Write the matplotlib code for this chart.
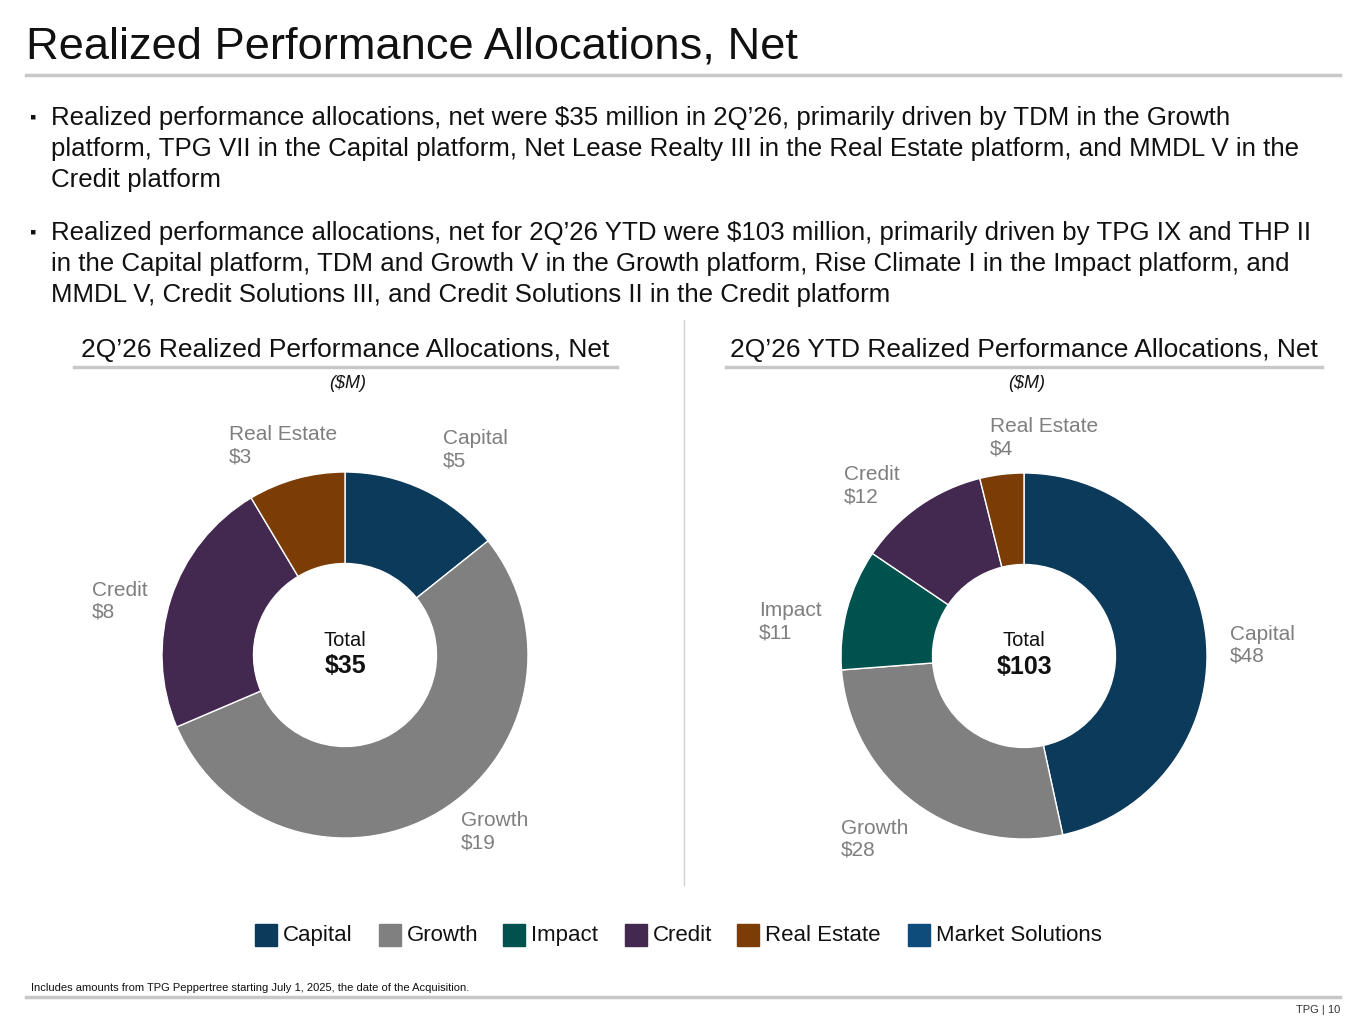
import matplotlib.pyplot as plt
from matplotlib.patches import Rectangle
from matplotlib.lines import Line2D

plt.rcParams['font.family'] = ['Liberation Sans', 'DejaVu Sans']

W, H = 1365, 1024
colors = {'Capital': '#0b3a5b', 'Growth': '#808080', 'Impact': '#00524f',
          'Credit': '#43284f', 'Real Estate': '#7b3c06', 'Market Solutions': '#0e4c7c'}

q_labels = ['Capital', 'Growth', 'Credit', 'Real Estate']
q_values = [5, 19, 8, 3]
ytd_labels = ['Capital', 'Growth', 'Impact', 'Credit', 'Real Estate']
ytd_values = [48, 28, 11, 12, 4]
legend_items = ['Capital', 'Growth', 'Impact', 'Credit', 'Real Estate', 'Market Solutions']

fig = plt.figure(figsize=(W / 100, H / 100), dpi=100)


def px(x, y):
    return x / W, 1 - y / H


def ftext(x, y, s, **kw):
    fig.text(*px(x, y), s, transform=fig.transFigure, **kw)


def hline(x0, x1, y, color='#c8c8c8', lw=2):
    fig.add_artist(Line2D([x0 / W, x1 / W], [1 - y / H] * 2, color=color, lw=lw))


ftext(26, 47, 'Realized Performance Allocations, Net', fontsize=32.6, va='center', color='#111111')
hline(26, 1340, 75, lw=2.5)

bullets = [
    (118, ['Realized performance allocations, net were $35 million in 2Q\u201926, primarily driven by TDM in the Growth',
           'platform, TPG VII in the Capital platform, Net Lease Realty III in the Real Estate platform, and MMDL V in the',
           'Credit platform']),
    (233, ['Realized performance allocations, net for 2Q\u201926 YTD were $103 million, primarily driven by TPG IX and THP II',
           'in the Capital platform, TDM and Growth V in the Growth platform, Rise Climate I in the Impact platform, and',
           'MMDL V, Credit Solutions III, and Credit Solutions II in the Credit platform']),
]
for y0, lines in bullets:
    ftext(30, y0, '\u25aa', fontsize=13, va='center', color='#111111')
    for i, ln in enumerate(lines):
        ftext(51, y0 + i * 31, ln, fontsize=18.65, va='center', color='#111111')

fig.add_artist(Line2D([684 / W] * 2, [1 - 320 / H, 1 - 885 / H], color='#d0d0d0', lw=1))

for cx, title, tx0, tx1 in [(345, '2Q\u201926 Realized Performance Allocations, Net', 74, 617),
                           (1024, '2Q\u201926 YTD Realized Performance Allocations, Net', 726, 1322)]:
    ftext((tx0 + tx1) / 2, 350, title, fontsize=19, ha='center', va='center', color='#111111')
    hline(tx0, tx1, 367, lw=2.5)
    ftext(cx + 3, 384, '($M)', fontsize=13, ha='center', va='center', style='italic', color='#111111')


def donut(cx, cy, labels, values, total, ann):
    r = 183
    ax = fig.add_axes([(cx - r) / W, 1 - (cy + r) / H, 2 * r / W, 2 * r / H])
    ax.pie(values, colors=[colors[l] for l in labels], startangle=90, counterclock=False,
           radius=1, wedgeprops=dict(width=0.5, edgecolor='white', linewidth=1))
    ax.set_xlim(-1, 1)
    ax.set_ylim(-1, 1)
    ax.set_aspect('equal')
    ax.axis('off')
    ftext(cx, cy - 15, 'Total', fontsize=14.5, ha='center', va='center', color='#111111')
    ftext(cx, cy + 11, '$' + str(total), fontsize=18, ha='center', va='center', weight='bold', color='#111111')
    for lab, val in zip(labels, values):
        x, y = ann[lab]
        ftext(x, y, f'{lab}\n${val}', fontsize=15, va='center', color='#7f7f7f', linespacing=1.2)


donut(345, 655, q_labels, q_values, sum(q_values),
      {'Capital': (443, 450), 'Growth': (461, 832), 'Credit': (92, 601), 'Real Estate': (229, 446)})
donut(1024, 656, ytd_labels, ytd_values, sum(ytd_values),
      {'Capital': (1230, 645), 'Growth': (841, 839), 'Impact': (759, 622),
       'Credit': (844, 486), 'Real Estate': (990, 438)})

legend_x = [255, 379, 503, 625, 737, 908]
for x, name in zip(legend_x, legend_items):
    fig.add_artist(Rectangle(px(x, 946), 22 / W, 22 / H, transform=fig.transFigure,
                             color=colors[name]))
    ftext(x + 28, 941, name, fontsize=16, va='baseline', color='#111111')
ftext(31, 988, 'Includes amounts from TPG Peppertree starting July 1, 2025, the date of the Acquisition.',
      fontsize=8, va='center', color='#111111')
hline(26, 1340, 997, lw=2.5)
ftext(1340, 1010, 'TPG | 10', fontsize=8, ha='right', va='center', color='#333333')

fig.savefig('out.png', dpi=100)
